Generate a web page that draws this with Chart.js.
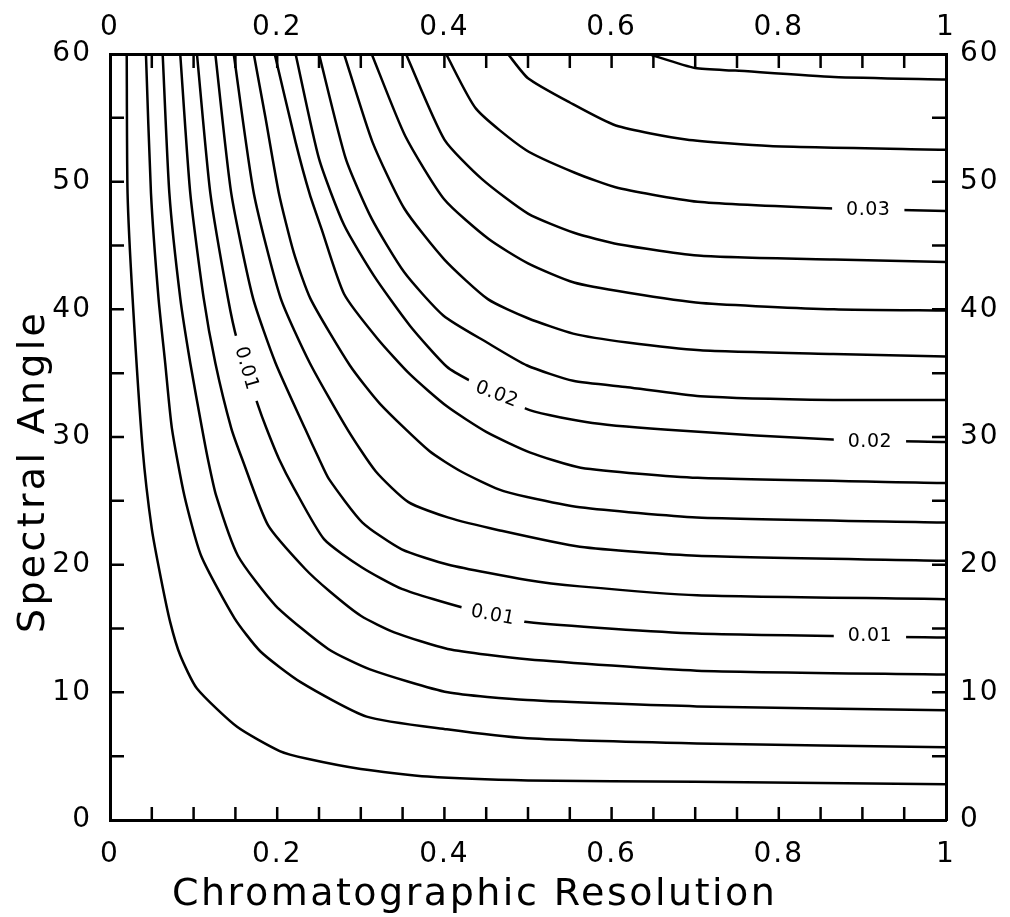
<!DOCTYPE html>
<html>
<head>
<meta charset="utf-8">
<script src="https://cdn.jsdelivr.net/npm/chart.js@4.4.1/dist/chart.umd.min.js"></script>
<style>
  html, body { margin: 0; padding: 0; background: #fff; }
</style>
</head>
<body>
<canvas id="contourChart" width="1010" height="917"></canvas>
<script>
// Contour levels, bottom-left to top-right
const levels = [0.002, 0.004, 0.006, 0.008, 0.010, 0.012, 0.014, 0.016, 0.018,
                0.020, 0.022, 0.024, 0.026, 0.028, 0.030, 0.032, 0.034];

// Each contour as [resolution, angle] pairs
const c1 = [[0.020,60],[0.021,49.1],[0.027,40.9],[0.039,29.1],[0.050,22.8],[0.061,18.9],[0.072,15.5],[0.084,12.9],[0.104,10.3],[0.152,7.3],[0.203,5.4],[0.236,4.8],[0.300,4.0],[0.380,3.4],[0.500,3.1],[0.700,3.0],[1,2.8]];
const c2 = [[0.043,60],[0.049,49.1],[0.058,40.9],[0.066,35.8],[0.074,30.7],[0.089,25.4],[0.109,20.7],[0.149,15.8],[0.180,13.2],[0.228,10.8],[0.307,8.1],[0.403,7.1],[0.499,6.4],[0.702,6.0],[1,5.7]];
const c3 = [[0.063,60],[0.071,49.1],[0.084,40.9],[0.096,35.8],[0.110,30.7],[0.117,28.3],[0.127,25.4],[0.153,20.7],[0.198,16.8],[0.261,13.4],[0.311,11.8],[0.404,10.0],[0.499,9.4],[0.702,8.9],[1,8.6]];
const c4 = [[0.084,60],[0.096,49.1],[0.112,40.9],[0.126,35.8],[0.145,30.7],[0.158,28.3],[0.189,23.1],[0.233,19.7],[0.263,17.9],[0.300,16.0],[0.340,14.7],[0.404,13.4],[0.499,12.6],[0.702,11.7],[1,11.4]];
const c5 = [[0.104,60],[0.120,49.1],[0.141,40.9],[0.152,37.6],[0.177,32.5],[0.187,30.7],[0.202,28.3],[0.220,26.0],[0.256,22.0],[0.301,19.8],[0.349,18.1],[0.424,16.6],[0.499,15.5],[0.702,14.6],[1,14.3]];
const c6 = [[0.126,60],[0.145,49.1],[0.171,40.9],[0.198,35.8],[0.233,30.7],[0.250,28.3],[0.262,26.7],[0.302,23.3],[0.349,21.2],[0.405,20.0],[0.499,18.8],[0.562,18.3],[0.702,17.6],[1,17.3]];
const c7 = [[0.148,60],[0.172,49.1],[0.204,40.9],[0.239,35.8],[0.284,30.6],[0.318,27.3],[0.357,24.9],[0.404,23.7],[0.465,22.7],[0.562,21.4],[0.702,20.7],[1,20.3]];
const c8 = [[0.172,60],[0.186,55.0],[0.202,49.1],[0.220,44.4],[0.240,40.8],[0.287,35.6],[0.323,32.6],[0.382,28.9],[0.420,27.3],[0.465,25.9],[0.499,25.3],[0.562,24.5],[0.702,23.7],[1,23.3]];
const c9 = [[0.197,60],[0.222,53.1],[0.239,49.0],[0.253,46.3],[0.280,41.2],[0.320,37.7],[0.359,34.9],[0.403,32.4],[0.450,30.4],[0.502,28.8],[0.563,27.6],[0.703,26.8],[1,26.4]];
const c10 = [[0.222,60],[0.250,51.8],[0.280,46.6],[0.316,42.6],[0.359,38.7],[0.403,35.5],[0.431,34.4],[0.502,32.1],[0.577,31.1],[0.681,30.5],[0.864,29.8],[1,29.6]];
const c11 = [[0.250,60],[0.282,51.8],[0.313,47.1],[0.352,42.9],[0.399,39.5],[0.451,37.4],[0.499,35.6],[0.554,34.4],[0.619,33.9],[0.706,33.2],[0.865,32.9],[1,32.9]];
const c12 = [[0.280,60],[0.314,53.1],[0.352,47.9],[0.400,43.9],[0.452,40.8],[0.500,39.3],[0.554,38.1],[0.619,37.4],[0.706,36.8],[0.865,36.5],[1,36.3]];
const c13 = [[0.313,60],[0.353,53.6],[0.400,48.6],[0.453,45.5],[0.500,43.6],[0.555,42.1],[0.620,41.3],[0.707,40.5],[0.866,40.0],[1,39.9]];
const c14 = [[0.354,60],[0.400,53.3],[0.445,50.2],[0.500,47.5],[0.555,46.0],[0.608,45.1],[0.707,44.2],[0.866,43.9],[1,43.7]];
const c15 = [[0.402,60],[0.438,55.7],[0.497,52.5],[0.556,50.7],[0.608,49.5],[0.707,48.4],[0.866,47.9],[1,47.7]];
const c16 = [[0.476,60],[0.500,58.1],[0.550,56.2],[0.605,54.4],[0.689,53.3],[0.789,52.8],[1,52.5]];
const c17 = [[0.644,60],[0.700,58.9],[0.748,58.7],[0.866,58.2],[1,58.0]];
const contours = [c1, c2, c3, c4, c5, c6, c7, c8, c9, c10, c11, c12, c13, c14, c15, c16, c17];

// Inline level labels (placed on the line, cutting a gap)
const contourLabels = [
  { text: '0.01', x: 0.164, y: 35.4, rot: 74, gap: 12 },
  { text: '0.01', x: 0.458, y: 16.1, rot: 11, gap: 10 },
  { text: '0.02', x: 0.463, y: 33.4, rot: 21, gap: 9 },
  { text: '0.03', x: 0.907, y: 47.85, rot: 0, gap: 14 },
  { text: '0.02', x: 0.909, y: 29.7, rot: 0, gap: 14 },
  { text: '0.01', x: 0.909, y: 14.45, rot: 0, gap: 14 }
];

const xTicks = [0, 0.2, 0.4, 0.6, 0.8, 1];
const yTicks = [0, 10, 20, 30, 40, 50, 60];
const xMinor = [0.05, 0.1, 0.15, 0.2, 0.25, 0.3, 0.35, 0.4, 0.45, 0.5, 0.55, 0.6, 0.65, 0.7, 0.75, 0.8, 0.85, 0.9, 0.95];
const yMinor = [5, 10, 15, 20, 25, 30, 35, 40, 45, 50, 55];
const xTitle = 'Chromatographic Resolution';
const yTitle = 'Spectral Angle';

const FONT = "'DejaVu Sans', sans-serif";
Chart.defaults.font.family = FONT;
Chart.defaults.color = '#000';

function xAxis(position, size, pad) {
  return {
    type: 'linear', position, min: 0, max: 1,
    grid: { display: false, drawTicks: false },
    border: { display: true, color: '#000', width: 3 },
    afterBuildTicks: s => { s.ticks = xTicks.map(v => ({ value: v })); },
    ticks: { font: { size: 28 }, padding: pad, maxRotation: 0, autoSkip: false, callback: v => String(v) },
    afterFit: s => { s.height = size; }
  };
}

function yAxis(position, size, pad) {
  return {
    type: 'linear', position, min: 0, max: 60,
    grid: { display: false, drawTicks: false },
    border: { display: true, color: '#000', width: 3 },
    afterBuildTicks: s => { s.ticks = yTicks.map(v => ({ value: v })); },
    ticks: { font: { size: 28 }, padding: pad, autoSkip: false, callback: v => String(v) },
    afterFit: s => { s.width = size; }
  };
}

// Inward ticks, level labels and axis titles
const decor = {
  id: 'decor',
  beforeDraw(chart) {
    chart.ctx.letterSpacing = '2px';
  },
  afterDraw(chart) {
    const { ctx, chartArea: a, scales } = chart;
    const xs = scales.x, ys = scales.y;
    ctx.save();
    ctx.strokeStyle = '#000';
    ctx.lineWidth = 2.5;
    ctx.beginPath();
    xMinor.forEach(v => {
      const px = xs.getPixelForValue(v);
      ctx.moveTo(px, a.bottom); ctx.lineTo(px, a.bottom - 13);
      ctx.moveTo(px, a.top); ctx.lineTo(px, a.top + 14);
    });
    yMinor.forEach(v => {
      const py = ys.getPixelForValue(v);
      ctx.moveTo(a.left, py); ctx.lineTo(a.left + 14, py);
      ctx.moveTo(a.right, py); ctx.lineTo(a.right - 14, py);
    });
    ctx.stroke();

    ctx.font = '19px ' + FONT;
    ctx.letterSpacing = '0.5px';
    ctx.textAlign = 'center';
    ctx.textBaseline = 'middle';
    contourLabels.forEach(l => {
      const px = xs.getPixelForValue(l.x), py = ys.getPixelForValue(l.y);
      const w = ctx.measureText(l.text).width;
      ctx.save();
      ctx.translate(px, py);
      ctx.rotate(l.rot * Math.PI / 180);
      ctx.fillStyle = '#fff';
      ctx.fillRect(-w / 2 - l.gap, -8, w + 2 * l.gap, 16);
      ctx.fillStyle = '#000';
      ctx.fillText(l.text, 0, 1);
      ctx.restore();
    });

    ctx.font = '38px ' + FONT;
    ctx.textAlign = 'left';
    ctx.textBaseline = 'alphabetic';
    ctx.fillStyle = '#000';
    ctx.letterSpacing = '2.5px';
    ctx.fillText(xTitle, a.left + 62, a.bottom + 85);
    ctx.translate(a.left - 66, a.bottom - 187);
    ctx.rotate(-Math.PI / 2);
    ctx.letterSpacing = '3.3px';
    ctx.fillText(yTitle, 0, 0);
    ctx.restore();
  }
};

new Chart(document.getElementById('contourChart'), {
  type: 'scatter',
  data: {
    datasets: contours.map((pts, i) => ({
      label: String(levels[i]),
      data: pts.map(([x, y]) => ({ x, y })),
      showLine: true,
      pointRadius: 0,
      borderColor: '#000',
      borderWidth: 2.5,
      tension: 0.2,
      fill: false,
      xAxisID: 'x',
      yAxisID: 'y'
    }))
  },
  options: {
    responsive: false,
    animation: false,
    devicePixelRatio: 1,
    layout: { padding: 0 },
    plugins: { legend: { display: false }, tooltip: { enabled: false } },
    scales: {
      x: xAxis('bottom', 97, 18),
      x2: xAxis('top', 54, 9),
      y: yAxis('left', 110, 18),
      y2: yAxis('right', 64, 14)
    }
  },
  plugins: [decor]
});
</script>
</body>
</html>
